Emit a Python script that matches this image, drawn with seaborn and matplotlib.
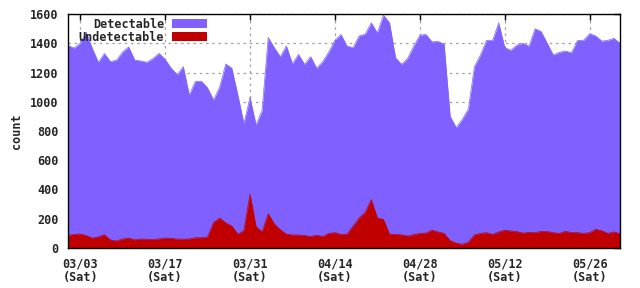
import numpy as np
import pandas as pd
import matplotlib
matplotlib.use("Agg")
import matplotlib.pyplot as plt
import matplotlib.dates as mdates
from matplotlib.patches import Patch
import seaborn as sns

# ---- data (daily, 2018-03-01 .. 2018-05-31) ----
start_date = "2018-03-01"
detectable = [1385, 1367, 1400, 1475, 1365, 1270, 1330, 1274, 1285, 1340,
              1375, 1285, 1279, 1270, 1295, 1331, 1290, 1230, 1185, 1240,
              1046, 1140, 1140, 1095, 1012, 1100, 1258, 1230, 1046, 850,
              1030, 841, 940, 1440, 1370, 1308, 1381, 1260, 1324, 1256,
              1308, 1229, 1275, 1340, 1420, 1460, 1381, 1370, 1450, 1463,
              1540, 1470, 1593, 1540, 1300, 1256, 1297, 1380, 1455, 1460,
              1410, 1412, 1395, 900, 823, 880, 950, 1240, 1320, 1420,
              1420, 1540, 1370, 1352, 1388, 1400, 1380, 1500, 1480, 1400,
              1320, 1338, 1347, 1335, 1420, 1420, 1465, 1450, 1415, 1420,
              1434, 1400]
undetectable = [85, 93, 96, 85, 68, 76, 90, 55, 48, 62,
                68, 56, 61, 60, 58, 62, 68, 66, 61, 61,
                62, 70, 70, 75, 175, 205, 172, 150, 95, 120,
                369, 146, 110, 235, 165, 125, 95, 89, 89, 86,
                78, 88, 78, 100, 105, 93, 95, 150, 205, 245,
                330, 205, 196, 95, 93, 90, 82, 92, 100, 102,
                122, 110, 100, 50, 34, 25, 40, 90, 100, 105,
                93, 110, 122, 116, 112, 102, 107, 105, 114, 112,
                105, 100, 114, 106, 105, 100, 105, 128, 118, 100,
                110, 98]
series_names = ["Detectable", "Undetectable"]
tick_dates = ["2018-03-03", "2018-03-17", "2018-03-31", "2018-04-14",
              "2018-04-28", "2018-05-12", "2018-05-26"]
y_ticks = [0, 200, 400, 600, 800, 1000, 1200, 1400, 1600]

dates = pd.date_range(start_date, periods=len(detectable), freq="D")
df = pd.DataFrame({"date": dates, "Detectable": detectable,
                   "Undetectable": undetectable})

PURPLE = "#8060ff"
RED = "#c00000"
FONT = "DejaVu Sans Mono"
FS = 8.5

sns.set_style("white")
plt.rcParams["font.family"] = [FONT, "DejaVu Sans"]
plt.rcParams["font.weight"] = "bold"

fig = plt.figure(figsize=(6.4, 2.88), dpi=100)
ax = fig.add_axes([68 / 640, 1 - 248 / 288, 552 / 640, 234 / 288])

ax.fill_between(df["date"], 0, df["Detectable"], color=PURPLE, lw=0, zorder=2)
sns.lineplot(data=df, x="date", y="Detectable", ax=ax, color=PURPLE, lw=0.5,
             zorder=2)
ax.fill_between(df["date"], 0, df["Undetectable"], color=RED, lw=0, zorder=3)
sns.lineplot(data=df, x="date", y="Undetectable", ax=ax, color=RED, lw=0.5,
             zorder=3)

ax.set_xlim(pd.Timestamp("2018-03-01"), pd.Timestamp("2018-05-31"))
ax.set_ylim(0, 1600)
ax.set_yticks(y_ticks)
ax.set_yticklabels([str(v) for v in y_ticks])
td = pd.to_datetime(tick_dates)
ax.set_xticks(td)
ax.set_xticklabels([d.strftime("%m/%d") + "\n(" + d.strftime("%a") + ")"
                    for d in td], linespacing=1.0)

ax.grid(True, color="#a0a0a0", linestyle=(0, (2, 3)), lw=0.9)
ax.set_axisbelow(True)
ax.tick_params(axis="both", direction="in", length=4, width=1, color="black",
               labelsize=FS, top=True, right=True)
ax.tick_params(axis="x", pad=7)
ax.tick_params(axis="y", pad=7)
for lab in ax.get_xticklabels() + ax.get_yticklabels():
    lab.set_fontweight("bold")
    lab.set_fontfamily(FONT)
ax.set_xlabel("")
ax.set_ylabel("count", fontsize=FS, fontweight="bold", labelpad=5)
for s in ax.spines.values():
    s.set_color("black")
    s.set_linewidth(1)
    s.set_zorder(5)

handles = [Patch(facecolor=PURPLE, edgecolor="none"),
           Patch(facecolor=RED, edgecolor="none")]
leg = ax.legend(handles, series_names, loc="upper right",
                bbox_to_anchor=(0.262, 1.01), frameon=False, markerfirst=False,
                handlelength=2.9, handleheight=0.7,
                handletextpad=0.7, labelspacing=0.0, borderaxespad=0.1,
                prop={"family": FONT, "weight": "bold", "size": FS})
leg.set_zorder(10)

fig.savefig("out.png", dpi=100)
